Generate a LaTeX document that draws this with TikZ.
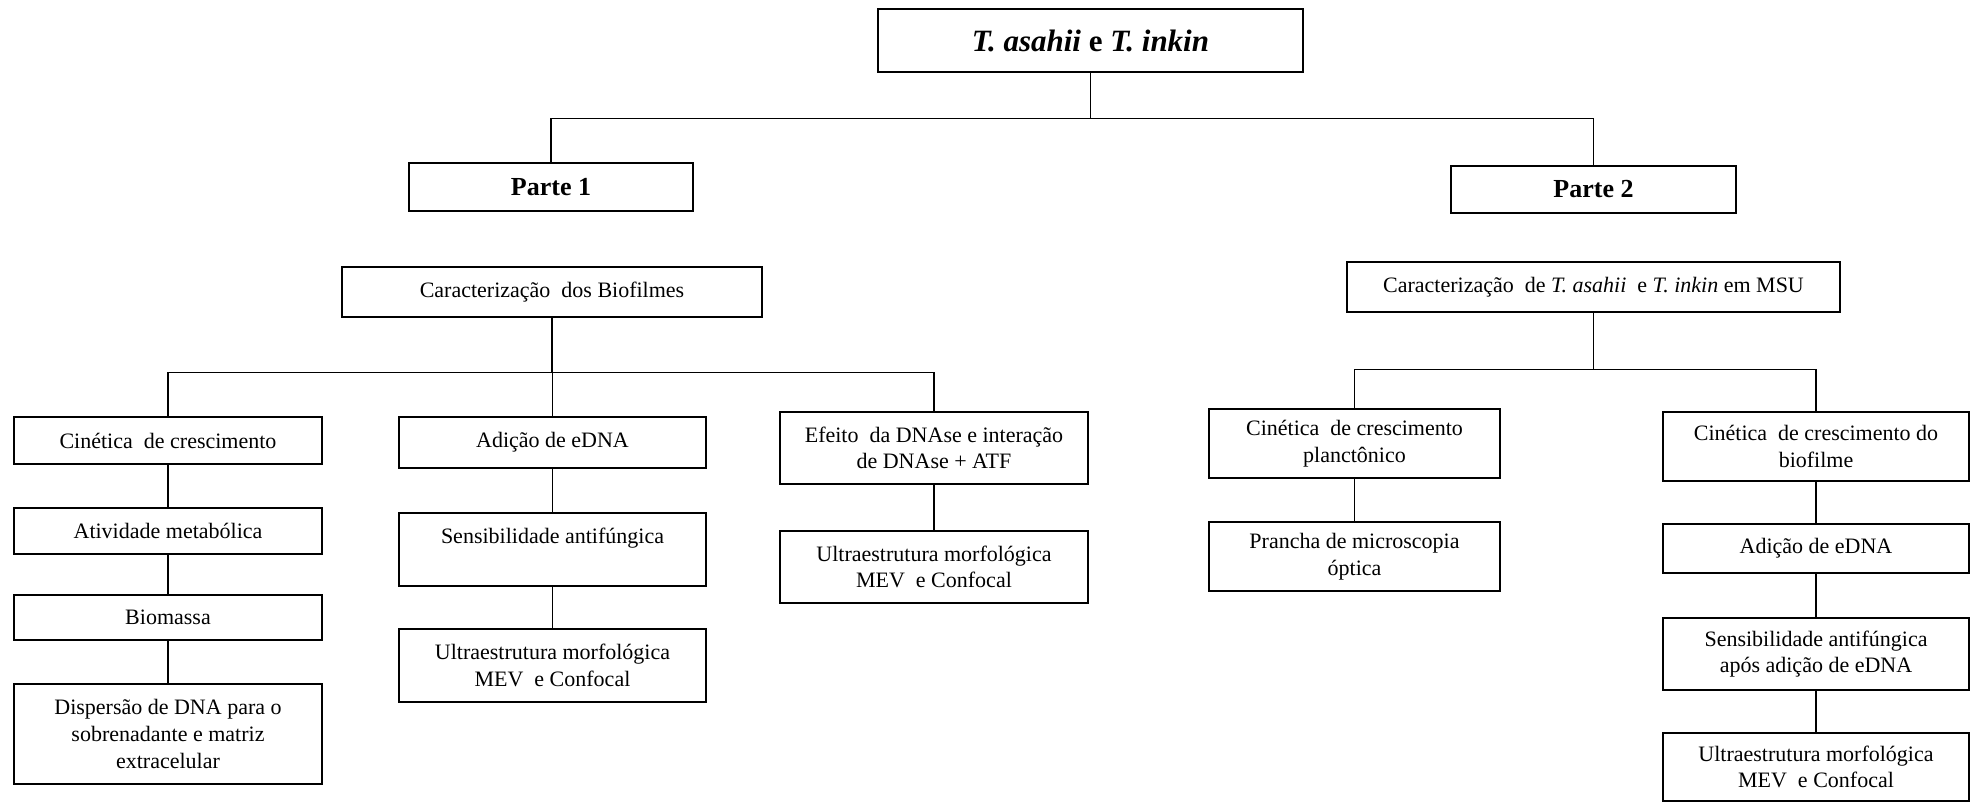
\documentclass[tikz,border=0pt]{standalone}
\usepackage{fontspec}
\setmainfont{Liberation Serif}

\begin{document}
\begin{tikzpicture}[x=0.5pt, y=-0.5pt,
  box/.style={draw, line width=0.8pt, inner sep=0pt, align=center, font=\fontsize{11}{13.3}\selectfont},
  boxsize/.style 2 args={minimum width=#1, minimum height=#2},
  link/.style={line width=0.6pt}]
  \useasboundingbox (0,0) rectangle (1976,803);

  % top and the two parts
  \node[box, boxsize={212.5pt}{31.5pt}, font=\fontsize{15.5}{18}\selectfont\bfseries] (top) at (1090.5,40.5) {\textit{T. asahii} e \textit{T. inkin}};
  \node[box, boxsize={142pt}{24pt}, font=\fontsize{13}{15}\selectfont\bfseries] (p1) at (551,187) {Parte 1};
  \node[box, boxsize={142.5pt}{23.5pt}, font=\fontsize{13}{15}\selectfont\bfseries] (p2) at (1593.5,189.5) {Parte 2};
  \node[box, boxsize={210pt}{25pt}] (cb) at (552,292) {Caracterização~ dos Biofilmes};
  \node[box, boxsize={246.5pt}{25pt}] (cm) at (1593.5,287) {Caracterização~ de \textit{T. asahii}~ e \textit{T. inkin} em MSU};

  % Parte 1
  \node[box, boxsize={154pt}{23.5pt}] (cin) at (168,440.5) {Cinética~ de crescimento};
  \node[box, boxsize={154pt}{23pt}] (ativ) at (168,531) {Atividade metabólica};
  \node[box, boxsize={154pt}{22.5pt}] (bio) at (168,617.5) {Biomassa};
  \node[box, boxsize={154pt}{50pt}] (disp) at (168,734) {Dispersão de DNA para o\\sobrenadante e matriz\\extracelular};

  \node[box, boxsize={153.5pt}{25.5pt}] (adi) at (552.5,442.5) {Adição de eDNA};
  \node[box, boxsize={153.5pt}{36.5pt}] (sens) at (552.5,549.5) {Sensibilidade antifúngica\\\mbox{}};
  \node[box, boxsize={153.5pt}{36.5pt}] (ultraA) at (552.5,665.5) {Ultraestrutura morfológica\\MEV~ e Confocal};

  \node[box, boxsize={154pt}{36pt}] (efe) at (934,448) {Efeito~ da DNAse e interação\\de DNAse + ATF};
  \node[box, boxsize={154pt}{36pt}] (ultraB) at (934,567) {Ultraestrutura morfológica\\MEV~ e Confocal};

  % Parte 2
  \node[box, boxsize={145.5pt}{34.5pt}] (plan) at (1354.5,443.5) {Cinética~ de crescimento\\planctônico};
  \node[box, boxsize={145.5pt}{34.5pt}] (pran) at (1354.5,556.5) {Prancha de microscopia\\óptica};

  \node[box, boxsize={153pt}{34.5pt}] (cbio) at (1816,446.5) {Cinética~ de crescimento do\\biofilme};
  \node[box, boxsize={153pt}{24.5pt}] (adiB) at (1816,548.5) {Adição de eDNA};
  \node[box, boxsize={153pt}{36pt}] (sensB) at (1816,654) {Sensibilidade antifúngica\\após adição de eDNA};
  \node[box, boxsize={153pt}{34pt}] (ultraC) at (1816,767) {Ultraestrutura morfológica\\MEV~ e Confocal};

  % branches
  \draw[link] (top.south) -- ++(0,46) -| (p1.north);
  \draw[link] (top.south) -- ++(0,46) -| (p2.north);
  \foreach \n in {cin, adi, efe}
    \draw[link] (cb.south) -- ++(0,55) -| (\n.north);
  \foreach \n in {plan, cbio}
    \draw[link] (cm.south) -- ++(0,57) -| (\n.north);

  % columns
  \foreach \a/\b in {cin/ativ, ativ/bio, bio/disp, adi/sens, sens/ultraA, efe/ultraB, plan/pran, cbio/adiB, adiB/sensB, sensB/ultraC}
    \draw[link] (\a.south) -- (\b.north);
\end{tikzpicture}
\end{document}
